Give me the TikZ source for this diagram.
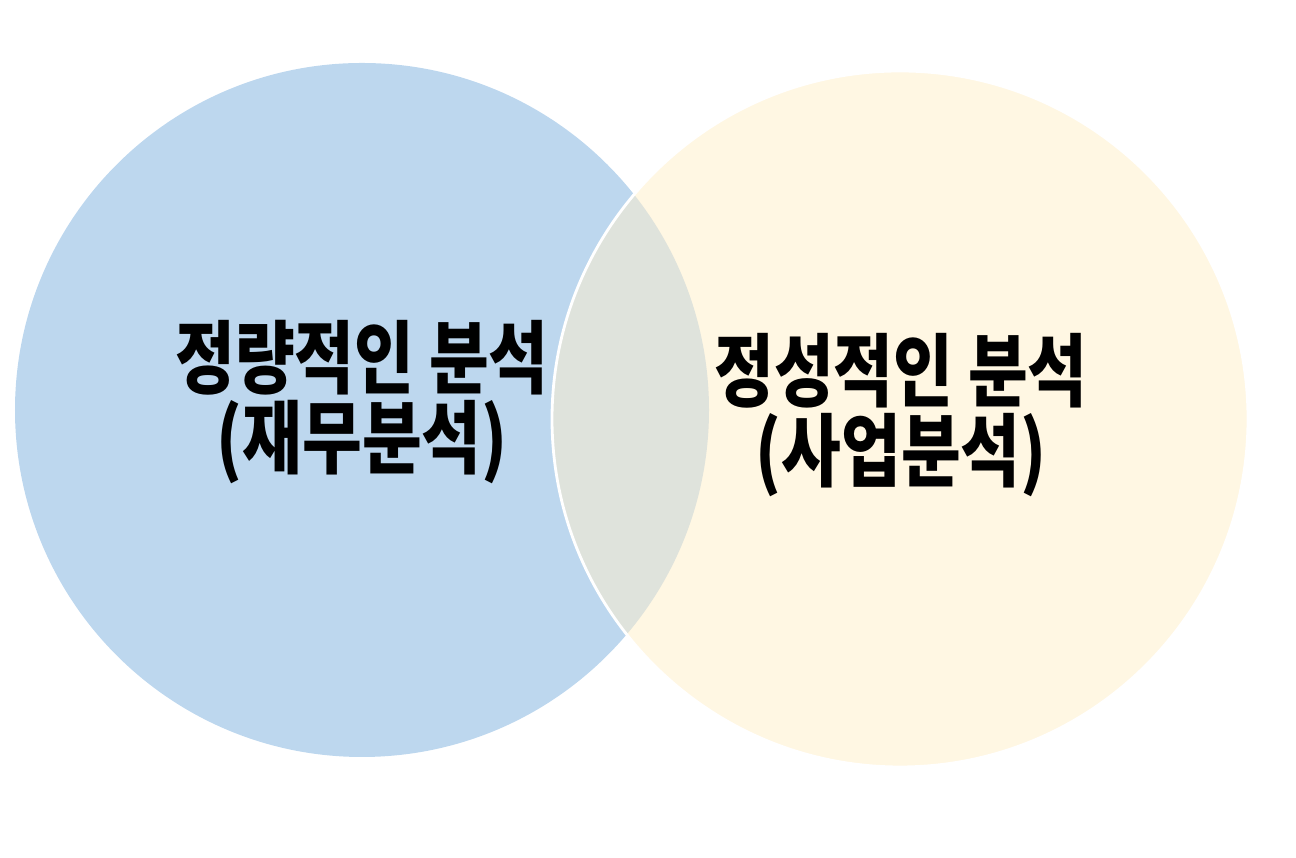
\documentclass[tikz,border=0pt]{standalone}
\usepackage{fontspec}
\IfFontExistsTF{Noto Sans CJK KR Black}
  {\newfontfamily\kr{Noto Sans CJK KR}[BoldFont={Noto Sans CJK KR Black}]}
  {\newfontfamily\kr{Noto Sans CJK KR}[BoldFont={Noto Sans CJK KR Bold}]}
\definecolor{azul}{HTML}{BDD7EE}
\definecolor{crema}{HTML}{FFF7E3}
\definecolor{gris}{HTML}{DFE3DC}
\begin{document}
\begin{tikzpicture}[
    etiqueta/.style={align=center, font=\kr\bfseries\fontsize{21}{21}\selectfont,
        inner sep=0pt, xscale=0.88, yscale=1.08, transform shape}
]
        \useasboundingbox (0,0) rectangle (12.96,8.58);

        % Círculos
        \coordinate (cizq) at (3.62,4.48);
        \coordinate (cder) at (9.00,4.39);
        \fill[azul] (cizq) circle (3.47);
        \fill[crema] (cder) circle (3.48);

        % Intersección
        \begin{scope}
            \clip (cizq) circle (3.47);
            \fill[gris] (cder) circle (3.48);
        \end{scope}
        \draw[white, line width=0.8pt] (cder) circle (3.48);

        % Etiquetas
        \coordinate (tizq) at (3.62,4.56);
        \coordinate (tder) at (9.01,4.43);
        \node[etiqueta] (cuant) at (tizq) {정량적인 분석\\(재무분석)};
        \node[etiqueta] (cual) at (tder) {정성적인 분석\\(사업분석)};
    \end{tikzpicture}
\end{document}
